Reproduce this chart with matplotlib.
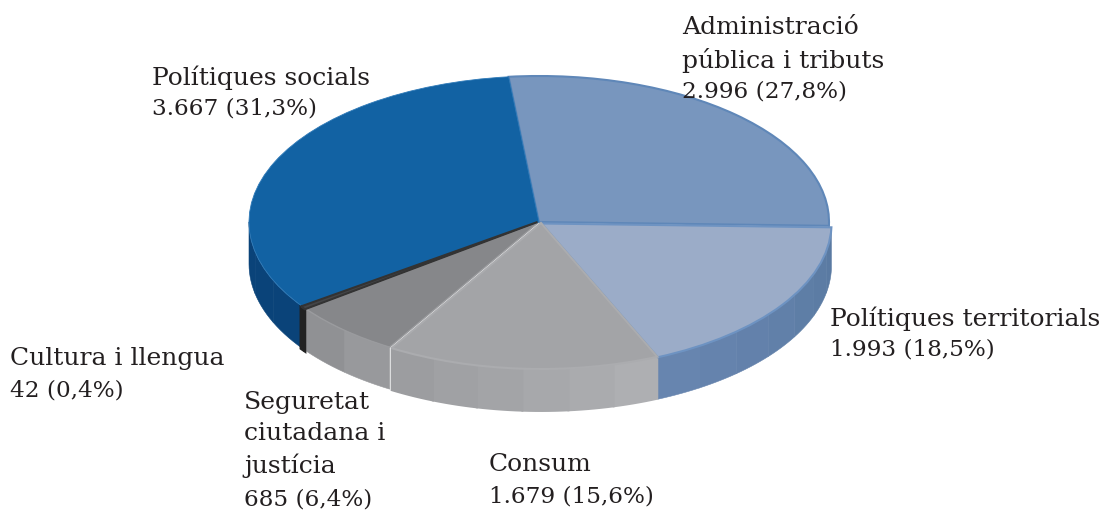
import numpy as np
from matplotlib import pyplot as plt
from matplotlib.patches import Wedge
from matplotlib.colors import to_rgb
from matplotlib.transforms import Affine2D

# values as printed on the chart, clockwise from the top
names = ['Administració\npública i tributs', 'Polítiques territorials', 'Consum',
         'Seguretat\nciutadana i\njustícia', 'Cultura i llengua', 'Polítiques socials']
values = [2996, 1993, 1679, 685, 42, 3667]
value_labels = ['2.996 (27,8%)', '1.993 (18,5%)', '1.679 (15,6%)',
                '685 (6,4%)', '42 (0,4%)', '3.667 (31,3%)']

top_colors = ['#7896BE', '#9BACC8', '#A3A4A7', '#86878A', '#444547', '#1262A3']
edge_colors = ['#5F87B8', '#6E93C2', '#ABACAF', '#9A9B9E', '#333333', '#2F7AB8']
edge_widths = [1.5, 1.5, 1.5, 1.0, 1.5, 0.6]
side_from = ['#5A7AA2', '#5A7AA2', '#AEAFB2', '#98999C', '#222222', '#0A4379']
side_to = ['#5A7AA2', '#6785AF', '#9C9DA0', '#909194', '#222222', '#0A4379']
wall_widths = [0.4, 0.4, 1.4, 0.4, 2.0, 0.4]

label_pos = [(682, 16), (830, 306), (489, 453), (244, 391), (10, 347), (152, 65)]
shifts = [(0, 0), (2.5, -1.5), (2, -1), (0, 0), (-1.5, 0), (0, 0)]

LINE_H = 32.5
CX, CY = 539, 289  # y counted from the bottom of the image
RX, RY = 290, 146
DEPTH = 42
START = 96


def ellipse_xy(angles, dx=0, dy=0):
    rad = np.radians(angles)
    return CX + dx + RX * np.cos(rad), CY + dy + RY * np.sin(rad)


fig = plt.figure(figsize=(11.07, 5.11), dpi=100)
ax = fig.add_axes([0, 0, 1, 1])
ax.set_xlim(0, 1107)
ax.set_ylim(0, 511)
ax.axis('off')

sweeps = np.array(values) / sum(values) * 360
ends = START - np.cumsum(sweeps)
starts = ends + sweeps

for i in range(len(values)):
    dx, dy = shifts[i]
    thin = names[i].startswith('Cultura')

    # side wall: only the front half of the ellipse shows
    a1 = min(starts[i], 0)
    a0 = max(ends[i], -180)
    if a1 > a0:
        steps = max(int((a1 - a0) / 9), 1)
        edges = np.linspace(a1, a0, steps + 1)
        c0, c1 = np.array(to_rgb(side_from[i])), np.array(to_rgb(side_to[i]))
        for k in range(steps):
            arc = np.linspace(edges[k], edges[k + 1], 8)
            x, y = ellipse_xy(arc, dx, dy)
            c = c0 + (c1 - c0) * k / max(steps - 1, 1)
            ax.fill(np.r_[x, x[::-1]], np.r_[y, y[::-1] - DEPTH], color=c,
                    lw=wall_widths[i], zorder=2.5 if thin else 2)

    # top face, a unit wedge squashed onto the ellipse
    tr = Affine2D().scale(RX, RY).translate(CX + dx, CY + dy) + ax.transData
    ax.add_patch(Wedge((0, 0), 1, ends[i], starts[i], facecolor=top_colors[i],
                       edgecolor=edge_colors[i], linewidth=edge_widths[i], transform=tr,
                       zorder=4 if thin else 3))

# the names set a little wider than the numbers
for i in range(len(names)):
    lx, ly = label_pos[i]
    n_lines = names[i].count('\n') + 1
    ax.text(lx, 511 - ly, names[i], family='DejaVu Serif', fontsize=18, color='#231F20',
            va='top', ha='left', linespacing=1.44, zorder=5)
    ax.text(lx, 511 - (ly - 0.5 + n_lines * LINE_H), value_labels[i], family='DejaVu Serif',
            fontsize=16.7, color='#231F20', va='top', ha='left', zorder=5)

fig.savefig('out.png', dpi=100)
